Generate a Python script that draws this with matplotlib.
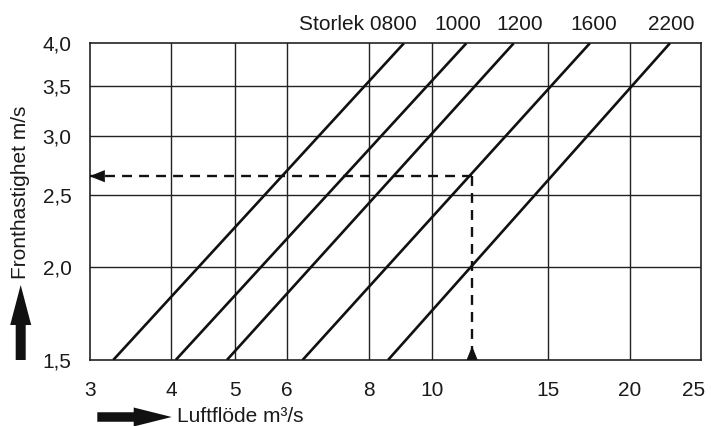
import matplotlib
matplotlib.use('Agg')
import matplotlib.pyplot as plt
from matplotlib.patches import FancyArrow
from matplotlib.transforms import IdentityTransform, blended_transform_factory

plt.rcParams['font.family'] = ['Liberation Sans', 'DejaVu Sans']

# sizes (Storlek) and airflow where each line meets 1,5 and 4,0 m/s
sizes = ['0800', '1000', '1200', '1600', '2200']
flow_at_low = [3.26, 4.06, 4.86, 6.34, 8.56]
flow_at_high = [9.05, 11.27, 13.31, 17.39, 23.04]
v_low, v_high = 1.5, 4.0

# reading example (dashed)
q_sel = 11.5
v_sel = 2.65

x_ticks = [3, 4, 5, 6, 8, 10, 15, 20, 25]
x_grid = [4, 5, 6, 8, 10, 15, 20]
y_ticks = [1.5, 2.0, 2.5, 3.0, 3.5, 4.0]
y_labels = ['1,5', '2,0', '2,5', '3,0', '3,5', '4,0']

txt = '#1a1a1a'
fs = 15

fig = plt.figure(figsize=(7.11, 4.26), dpi=100)
ax = fig.add_axes([0.126, 0.155, 0.860, 0.7435])
ax.set_xscale('log')
ax.set_yscale('log')
ax.set_xlim(3, 25.7)
ax.set_ylim(v_low, v_high)

ax.set_xticks(x_ticks)
ax.set_xticklabels([str(t) for t in x_ticks])
ax.set_yticks(y_ticks)
ax.set_yticklabels(y_labels)
ax.minorticks_off()
ax.tick_params(axis='both', length=0, labelsize=fs, labelcolor=txt)
ax.tick_params(axis='y', pad=13)
ax.tick_params(axis='x', pad=15)

# grid
for gx in x_grid:
    ax.axvline(gx, color='#222222', lw=1.0, zorder=1)
for gy in y_ticks[1:-1]:
    ax.axhline(gy, color='#222222', lw=1.0, zorder=1)
for sp in ax.spines.values():
    sp.set_linewidth(1.2)
    sp.set_color('#222222')

# size lines, labels above the top end
nudge = [9, -6.5, 4.3, 3, 0.7]   # label nudge in points
trans = blended_transform_factory(ax.transData, ax.transAxes)
for i, s in enumerate(sizes):
    ax.plot([flow_at_low[i], flow_at_high[i]], [v_low, v_high], color='#111111',
            lw=1.9, solid_capstyle='butt', zorder=3)
    label = 'Storlek ' + s if i == 0 else s
    ax.annotate(label, xy=(flow_at_high[i], 1.058), xycoords=trans,
                xytext=(nudge[i], 0), textcoords='offset points',
                ha='right' if i == 0 else 'center', va='center',
                fontsize=fs, color=txt)

# dashed reading lines
ax.plot([q_sel, 3], [v_sel, v_sel], color='#111111', lw=1.7,
        linestyle=(0, (4.2, 3)), zorder=4)
ax.plot([q_sel, q_sel], [v_sel, v_low], color='#111111', lw=1.7,
        linestyle=(0, (4.2, 3)), zorder=4)

ax.annotate('', xy=(3, v_sel), xytext=(11, 0), textcoords='offset points',
            arrowprops=dict(arrowstyle='-|>,head_length=0.55,head_width=0.22',
                            mutation_scale=20, fc='#111111', ec='#111111', lw=0,
                            shrinkA=0, shrinkB=0), zorder=5)
ax.annotate('', xy=(q_sel, v_low), xytext=(0, 10), textcoords='offset points',
            arrowprops=dict(arrowstyle='<|-,head_length=0.5,head_width=0.2',
                            mutation_scale=20, fc='#111111', ec='#111111', lw=0,
                            shrinkA=0, shrinkB=0), zorder=5)

# axis labels with thick arrows
fig.text(20.5 / 711, 1 - 192 / 426, 'Fronthastighet m/s', rotation=90,
         ha='center', va='center', fontsize=fs, color=txt)
fig.text(177 / 711, (426 - 416.5) / 426, 'Luftflöde m³/s', ha='left', va='center',
         fontsize=fs, color=txt)

up = FancyArrow(20.7, 66, 0, 75, width=10, head_width=21, head_length=40,
                length_includes_head=True, color='#111111', lw=0,
                transform=IdentityTransform())
right = FancyArrow(97.3, 9, 74.4, 0, width=9.5, head_width=19, head_length=38,
                   length_includes_head=True, color='#111111', lw=0,
                   transform=IdentityTransform())
fig.add_artist(up)
fig.add_artist(right)

fig.savefig('out.png', dpi=100)
